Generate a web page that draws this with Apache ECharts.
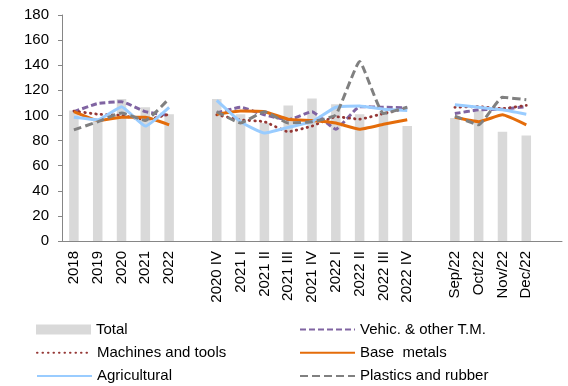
<!DOCTYPE html>
<html>
<head>
<meta charset="utf-8">
<script src="https://cdn.jsdelivr.net/npm/echarts@6/dist/echarts.min.js"></script>
<style>
  html, body { margin: 0; padding: 0; background: #fff; }
  #chart { width: 568px; height: 386px; }
</style>
</head>
<body>
<div id="chart"></div>
<script>
// categories: years, quarters, months (blanks separate the groups)
const categories = ['2018', '2019', '2020', '2021', '2022', '',
  '2020 IV', '2021 I', '2021 II', '2021 III', '2021 IV', '2022 I', '2022 II', '2022 III', '2022 IV', '',
  'Sep/22', 'Oct/22', 'Nov/22', 'Dec/22', ''];

const total = [104, 96, 113, 106.5, 101, null,
  113, 101, 94, 108, 113.5, 109, 101, 103, 91.5, null,
  98, 104, 87, 84, null];
const vehicles = [103, 109.5, 111, 103, 100, null,
  102, 106.5, 100.5, 96.5, 103, 89, 107, 106.5, 106, null,
  101.5, 104.5, 105, 107, null];
const machines = [103.5, 101, 100, 96.5, 101, null,
  100.5, 96.5, 95, 87, 91.5, 99, 97, 101.5, 105.5, null,
  106.5, 107, 105.5, 108, null];
const baseMetals = [103, 96, 98.5, 98.5, 92.5, null,
  101, 103.5, 103, 97, 96, 94, 89, 93, 96.5, null,
  98.5, 95, 100.5, 92.5, null];
const agricultural = [98.5, 96.5, 107, 91.5, 106.5, null,
  112, 95, 86, 90.5, 95, 106.5, 107.5, 105, 104, null,
  108.5, 106.5, 104.5, 101, null];
const plastics = [88.5, 95, 102, 96, 113.5, null,
  103, 94, 103, 94, 95, 100.5, 143, 101.5, 106.5, null,
  99.5, 92.5, 114.5, 112.5, null];

// legend layout: two columns, three rows
const legendItems = [
  ['Total', 31, 316.5], ['Vehic. & other T.M.', 294, 316.5],
  ['Machines and tools', 31, 339.8], ['Base  metals', 294, 339.8],
  ['Agricultural', 31, 363.1], ['Plastics and rubber', 294, 363.1]
];

const chart = echarts.init(document.getElementById('chart'));

const font = 'Arial, "Liberation Sans", sans-serif';

function lineSeries(name, data, color, type, width, cap) {
  return {
    name: name,
    type: 'line',
    data: data,
    symbol: 'none',
    smooth: 0.12,
    connectNulls: false,
    lineStyle: { color: color, width: width, type: type, cap: cap || 'butt' },
    itemStyle: { color: color },
    z: 3
  };
}

const option = {
  animation: false,
  backgroundColor: '#fff',
  grid: { left: 62, right: 6, top: 15, bottom: 145 },
  legend: legendItems.map(([name, left, top]) => ({
    left: left, top: top,
    itemWidth: 55, itemHeight: 10, itemGap: 0,
    textStyle: { fontFamily: font, fontSize: 15, color: '#000', lineHeight: 16 },
    data: [name === 'Total'
      ? { name: name, icon: 'rect' }
      : { name: name, itemStyle: { opacity: 0 } }]
  })),
  xAxis: {
    type: 'category',
    data: categories,
    boundaryGap: true,
    axisLine: { lineStyle: { color: '#868686', width: 1 } },
    axisTick: { show: false },
    axisLabel: {
      rotate: 90, interval: 0, margin: 10,
      fontFamily: font, fontSize: 15, color: '#000'
    }
  },
  yAxis: {
    type: 'value',
    min: 0, max: 180, interval: 20,
    axisLine: { show: true, lineStyle: { color: '#868686', width: 1 } },
    axisTick: { show: true, length: 4, lineStyle: { color: '#868686' } },
    splitLine: { show: false },
    axisLabel: { fontFamily: font, fontSize: 15, color: '#000', margin: 13 }
  },
  series: [
    {
      name: 'Total',
      type: 'bar',
      data: total,
      barWidth: 9.5,
      itemStyle: { color: '#d9d9d9' },
      z: 2
    },
    lineSeries('Vehic. & other T.M.', vehicles, '#8064a2', [6, 3], 3),
    lineSeries('Machines and tools', machines, '#953735', [0.5, 5], 2.8, 'round'),
    lineSeries('Base  metals', baseMetals, '#e46c0a', 'solid', 3),
    lineSeries('Agricultural', agricultural, '#99ccff', 'solid', 3),
    lineSeries('Plastics and rubber', plastics, '#808080', [8, 4], 3)
  ]
};

chart.setOption(option);
</script>
</body>
</html>
